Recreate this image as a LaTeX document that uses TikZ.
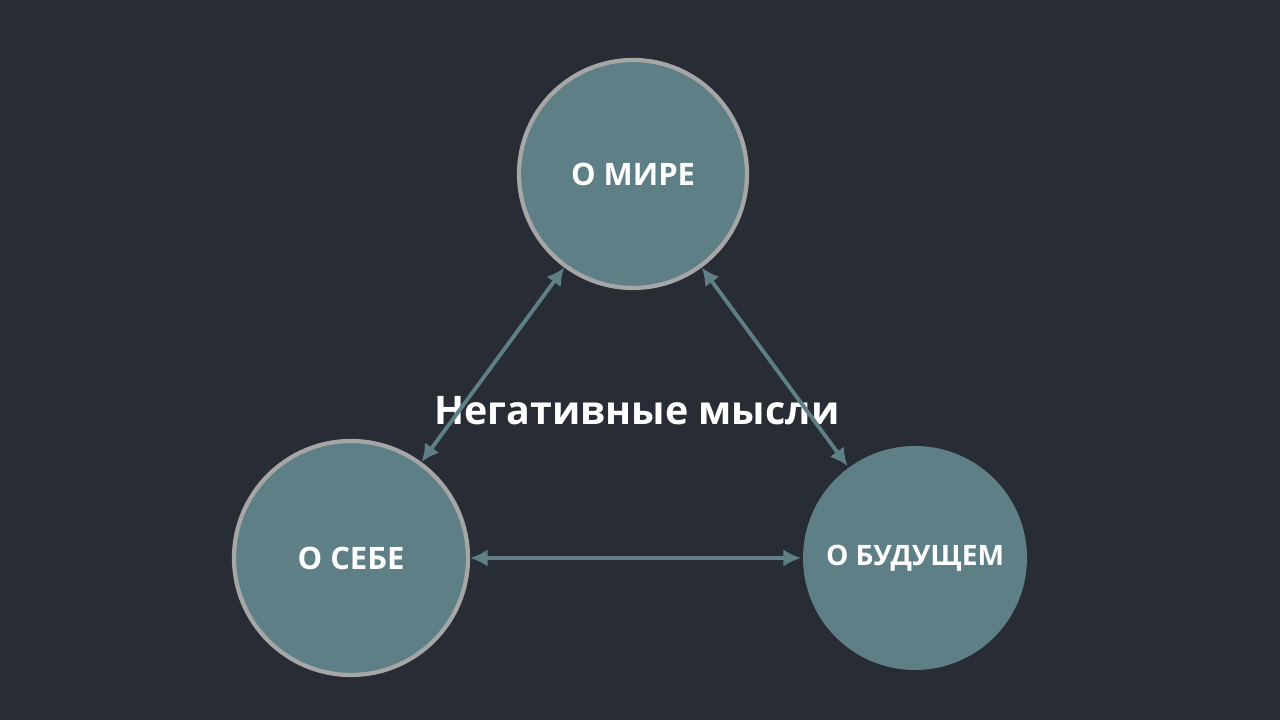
\documentclass[tikz,border=0pt]{standalone}
\usepackage{fontspec}
\setmainfont{Open Sans}
\usetikzlibrary{arrows.meta, positioning}
\definecolor{bgdark}{HTML}{282C34}
\definecolor{circfill}{HTML}{5F7F87}
\definecolor{circline}{HTML}{A6A6A6}
\tikzset{
  thought/.style={circle, fill=circfill, draw=circline, line width=1.2pt, text=white,
    font=\bfseries\fontsize{8.8}{10}\selectfont, inner sep=0pt},
  link/.style={draw=circfill, line width=1.1pt, {Latex[length=5pt,width=5pt]}-{Latex[length=5pt,width=5pt]}}
}
\begin{document}
\begin{tikzpicture}
  \fill[bgdark] (0,0) rectangle (12.8,7.2);
  \useasboundingbox (0,0) rectangle (12.8,7.2);
  % Circles
  \node [thought, minimum size=2.28cm] (world) at (6.33,5.46) {О МИРЕ};
  \node [thought, minimum size=2.34cm] (self) at (3.51,1.62) {О СЕБЕ};
  \node [thought, draw=none, minimum size=2.24cm, font=\bfseries\fontsize{8}{10}\selectfont] (future) at (9.15,1.62) {О БУДУЩЕМ};
  \node [text=white, font=\bfseries\fontsize{11.2}{13}\selectfont] (title) at (6.37,3.09) {Негативные мысли};
  % Draw edges
  \path [link] (world) -- (self);
  \path [link] (world) -- (future);
  \path [link] (self) -- (future);
\end{tikzpicture}
\end{document}
